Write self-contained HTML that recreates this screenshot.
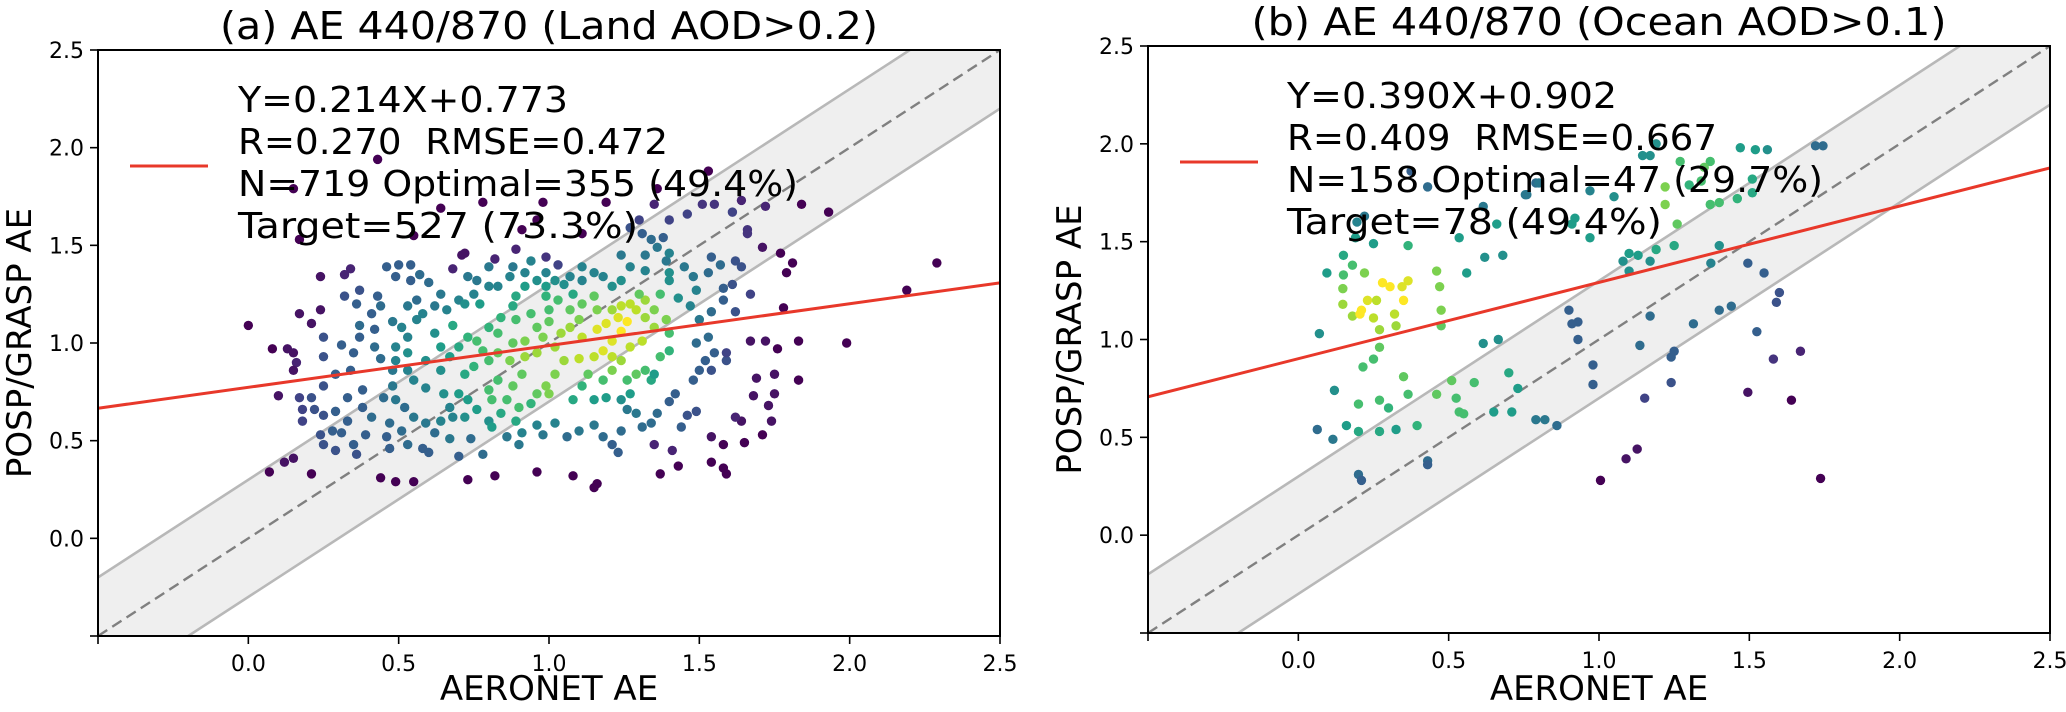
<!DOCTYPE html>
<html><head><meta charset="utf-8"><style>
html,body{margin:0;padding:0;background:#fff;}
svg{display:block;font-family:"DejaVu Sans","Liberation Sans",sans-serif;}
</style></head><body>
<svg id="chart" width="2066" height="712" viewBox="0 0 2066 712" xmlns="http://www.w3.org/2000/svg"></svg>
<script>
const xTicks = [0.0, 0.5, 1.0, 1.5, 2.0, 2.5];
const yTicks = [0.0, 0.5, 1.0, 1.5, 2.0, 2.5];
const tickLabels = ["0.0","0.5","1.0","1.5","2.0","2.5"];
const landFit = [0.214, 0.773];
const oceanFit = [0.390, 0.902];
const bandOffset = 0.3;
const landStats = ["Y=0.214X+0.773","R=0.270\u00a0\u00a0RMSE=0.472","N=719 Optimal=355 (49.4%)","Target=527 (73.3%)"];
const oceanStats = ["Y=0.390X+0.902","R=0.409\u00a0\u00a0RMSE=0.667","N=158 Optimal=47 (29.7%)","Target=78 (49.4%)"];
const titles = ["(a) AE 440/870 (Land AOD>0.2)", "(b) AE 440/870 (Ocean AOD>0.1)"];
// [AERONET AE, POSP/GRASP AE, density 0..1]
const landPoints = [
[0.43,1.94,0],[0.15,1.79,0],[0.17,1.53,0],[0.64,1.69,0],[0.55,1.55,0],[0.78,1.72,0],[0.98,1.72,0],[1.19,1.72,0],[0.96,1.63,0],[0.91,1.58,0],[1.11,1.56,0],[1.36,1.79,0],[1.53,1.88,0],[1.84,1.71,0],[1.93,1.67,0],[2.29,1.41,0],[2.19,1.27,0],[1.99,1.0,0],[1.83,1.01,0],[1.83,0.81,0],[1.76,0.97,0],[1.72,1.01,.05],[1.67,1.01,.05],[1.79,1.36,0],[1.81,1.41,0],[1.77,1.46,0],[1.71,1.49,.05],[1.78,1.18,0],[1.75,0.84,.05],[1.69,0.82,.05],[1.68,0.73,.05],[1.75,0.74,.05],[1.73,0.68,.05],[1.74,0.6,.05],[1.71,0.53,0],[1.65,0.49,0],[1.64,0.6,.05],[1.62,0.62,.1],[1.59,0.33,0],[1.58,0.36,0],[1.54,0.39,0],[1.58,0.48,0],[1.54,0.52,.05],[1.43,0.37,0],[1.37,0.33,0],[1.41,0.45,.1],[1.35,0.48,.1],[1.16,0.28,0],[1.15,0.26,0],[1.08,0.32,0],[0.96,0.34,0],[0.82,0.32,0],[0.73,0.3,0],[0.55,0.29,0],[0.49,0.29,0],[0.44,0.31,0],[0.21,0.33,0],[0.07,0.34,0],[0.12,0.39,.05],[0.15,0.41,.05],[0.1,0.73,.05],[0.08,0.97,0],[0.13,0.97,.05],[0.15,0.95,.05],[0.16,0.9,.1],[0.15,0.86,.05],[0.0,1.09,0],[0.17,1.15,.05],[0.21,1.1,.05],[0.24,1.17,.05],[0.24,1.34,.05],[0.32,1.35,.1],[0.34,1.38,.1],[0.72,1.46,.05],[0.71,1.45,.05],[0.68,1.38,.1],[0.82,1.43,.1],[0.89,1.48,.1],[0.99,1.44,.15],[1.03,1.4,.2],[1.66,1.58,.15],[1.66,1.56,.15],[1.64,1.73,.1],[1.61,1.67,.2],[1.72,1.7,.1],[1.51,1.71,.15],[1.55,1.71,.15],[1.46,1.66,.2],[1.4,1.63,.2],[1.35,1.71,.1],[1.3,1.63,.2],[1.27,1.59,.25],
[0.37,1.27,.25],[0.43,1.24,.3],[0.36,1.2,.3],[0.41,1.15,.3],[0.46,1.39,.3],[0.5,1.4,.3],[0.49,1.34,.3],[0.54,1.4,.3],[0.57,1.35,.35],[0.6,1.31,.35],[0.54,1.32,.3],[0.44,1.19,.35],[0.37,1.09,.35],[0.42,1.07,.3],[0.32,1.24,.25],[0.37,1.03,.3],[0.25,1.03,.25],[0.31,0.99,.3],[0.35,0.95,.3],[0.42,0.98,.35],[0.44,0.92,.35],[0.25,0.93,.25],[0.29,0.84,.3],[0.34,0.86,.3],[0.38,0.76,.3],[0.33,0.72,.3],[0.25,0.78,.25],[0.21,0.72,.25],[0.17,0.72,.2],[0.18,0.66,.2],[0.22,0.66,.25],[0.25,0.63,.25],[0.18,0.6,.2],[0.29,0.65,.3],[0.33,0.6,.3],[0.38,0.67,.3],[0.41,0.62,.35],[0.47,0.59,.35],[0.52,0.67,.35],[0.55,0.62,.4],[0.59,0.59,.4],[0.24,0.53,.25],[0.28,0.55,.3],[0.31,0.54,.3],[0.25,0.48,.25],[0.29,0.45,.25],[0.35,0.48,.3],[0.36,0.43,.25],[0.39,0.53,.3],[0.46,0.52,.3],[0.47,0.46,.3],[0.51,0.55,.35],[0.53,0.48,.35],[0.58,0.46,.3],[0.6,0.44,.3],[0.62,0.54,.35],[0.67,0.51,.4],[0.7,0.42,.3],[0.74,0.51,.35],[0.78,0.43,.35],[0.86,0.52,.4],[0.91,0.54,.45],[0.9,0.48,.4],[0.96,0.58,.45],[0.98,0.53,.4],[1.02,0.59,.45],[1.06,0.52,.35],[1.1,0.55,.4],[1.15,0.58,.4],[1.18,0.52,.35],[1.21,0.48,.3],[1.23,0.44,.3],[1.24,0.55,.35],[1.26,0.66,.4],[1.29,0.64,.4],[1.31,0.57,.35],[1.34,0.59,.35],[1.36,0.64,.35],[1.4,0.7,.3],[1.42,0.74,.3],[1.44,0.57,.3],[1.46,0.63,.25],[1.49,0.65,.25],[1.48,0.81,.3],[1.5,0.86,.3],[1.54,0.86,.25],[1.52,0.91,.3],[1.55,0.95,.3],[1.59,0.91,.25],[1.59,0.95,.2],[1.49,1.0,.35],[1.53,1.03,.35],[1.5,1.12,.4],[1.54,1.16,.35],[1.62,1.16,.25],[1.58,1.22,.3],[1.67,1.25,.2],[1.58,1.28,.3],[1.61,1.3,.25],[1.53,1.36,.35],[1.57,1.4,.35],[1.48,1.34,.4],[1.45,1.39,.4],[1.54,1.44,.3],[1.62,1.42,.25],[1.64,1.39,.25],[1.39,1.42,.4],[1.4,1.46,.45],[1.36,1.49,.4],[1.32,1.45,.4],[1.38,1.54,.3],[1.34,1.53,.35],[1.31,1.56,.3],[1.24,1.45,.4],[1.27,1.39,.45],[1.32,1.37,.45],[1.4,1.32,.5],[1.4,1.36,.5],[1.49,1.27,.45],[1.43,1.23,.5],[1.47,1.19,.45],[1.24,1.32,.5],[1.21,1.29,.5],[1.18,1.34,.45],[1.15,1.36,.45],[1.11,1.32,.45],[1.07,1.34,.45],[1.05,1.3,.5],[1.02,1.32,.5],[0.99,1.36,.45],[0.96,1.32,.5],[0.92,1.36,.45],[0.87,1.34,.45],[0.83,1.29,.45],[0.8,1.29,.45],[0.76,1.32,.4],[0.73,1.34,.4],[0.75,1.25,.45],[0.7,1.22,.45],[0.64,1.25,.4],[0.62,1.19,.4],[0.66,1.17,.45],[0.72,1.2,.5],[0.77,1.2,.55],[0.56,1.22,.35],[0.53,1.19,.4],[0.58,1.15,.45],[0.56,1.12,.45],[0.48,1.11,.4],[0.51,1.08,.45],[0.53,1.03,.45],[0.49,0.98,.45],[0.53,0.95,.5],[0.49,0.91,.45],[0.48,0.86,.4],[0.53,0.86,.45],[0.59,0.91,.5],[0.55,0.81,.45],[0.59,0.77,.45],[0.48,0.78,.4],[0.45,0.72,.35],[0.49,0.71,.4],[0.64,0.86,.5],[0.65,0.74,.5],[0.67,0.67,.45],[0.7,0.74,.55],[0.73,0.71,.55],[0.72,0.62,.5],[0.76,0.66,.55],[0.8,0.6,.5],[0.81,0.57,.55],[0.68,0.62,.45],[0.64,0.6,.45],
[0.68,1.09,.6],[0.73,1.03,.65],[0.7,0.98,.6],[0.76,1.01,.7],[0.78,0.96,.7],[0.8,1.08,.65],[0.83,1.05,.7],[0.84,1.13,.65],[0.89,1.12,.7],[0.88,1.19,.6],[0.94,1.15,.7],[0.96,1.08,.75],[1.0,1.17,.7],[1.0,1.11,.75],[0.98,1.03,.8],[0.92,1.01,.8],[0.88,1.0,.75],[0.83,0.95,.75],[0.87,0.91,.8],[0.92,0.93,.85],[0.96,0.95,.85],[1.02,0.98,.85],[1.04,1.05,.85],[1.07,1.08,.85],[1.1,1.12,.8],[1.11,1.03,.9],[1.16,1.07,.95],[1.19,1.1,.95],[1.23,1.13,.95],[1.26,1.11,1],[1.24,1.06,1],[1.21,1.01,.95],[1.18,0.96,.95],[1.15,0.93,.9],[1.1,0.92,.9],[1.05,0.91,.85],[1.21,0.93,.9],[1.24,0.91,.85],[1.27,0.98,.9],[1.31,1.01,.9],[1.29,1.17,.9],[1.32,1.13,.85],[1.35,1.17,.8],[1.35,1.08,.85],[1.39,1.12,.8],[1.4,1.05,.7],[1.32,1.22,.85],[1.27,1.2,.9],[1.24,1.19,.9],[1.21,1.17,.85],[1.16,1.17,.8],[1.11,1.2,.75],[1.07,1.17,.75],[1.03,1.22,.7],[0.99,1.24,.65],[1.15,1.24,.75],[1.3,1.25,.75],[1.37,1.25,.7],[1.4,0.96,.65],[1.37,0.93,.7],[1.32,0.86,.7],[1.29,0.84,.75],[1.26,0.81,.7],[1.21,0.86,.8],[1.18,0.81,.7],[1.13,0.84,.75],[1.11,0.78,.65],[1.08,0.71,.6],[1.15,0.71,.55],[1.19,0.72,.55],[1.24,0.71,.5],[1.27,0.74,.55],[1.34,0.81,.6],[1.35,0.84,.55],[1.02,0.84,.8],[0.99,0.78,.8],[0.96,0.74,.75],[1.0,0.74,.8],[0.91,0.84,.75],[0.88,0.78,.75],[0.83,0.81,.7],[0.8,0.76,.7],[0.81,0.71,.7],[0.86,0.71,.7],[0.9,0.67,.7],[0.94,0.69,.65],[0.84,0.64,.6],[0.89,0.6,.6],[0.8,0.91,.7],[0.75,0.88,.65],[0.72,0.84,.6],[0.67,0.93,.55],[0.64,0.98,.55],[0.62,1.05,.5],[0.89,1.24,.6],[0.92,1.29,.55],[0.99,1.29,.55],[1.08,1.25,.6],[1.11,1.39,.45],[0.94,1.42,.45],[0.88,1.39,.4],[0.8,1.39,.4]
];
const oceanPoints = [
[0.063,0.54,.35],[0.07,1.03,.5],[0.095,1.34,.55],[0.115,0.49,.4],[0.12,0.74,.5],[0.15,1.43,.6],[0.15,1.33,.7],[0.148,1.26,.8],[0.148,1.18,.85],[0.18,1.38,.7],[0.16,0.56,.55],[0.18,1.12,.85],[0.2,0.53,.6],[0.2,0.67,.7],[0.21,1.15,1],[0.205,1.13,1],[0.22,1.34,.8],[0.215,0.86,.7],[0.23,1.2,.95],[0.25,1.11,.9],[0.25,1.49,.55],[0.26,1.2,.9],[0.27,1.05,.85],[0.27,0.96,.75],[0.27,0.69,.7],[0.27,0.53,.6],[0.28,1.29,1],[0.25,0.9,.7],[0.3,0.65,.65],[0.305,1.27,1],[0.32,1.13,.9],[0.325,1.07,.85],[0.325,0.54,.55],[0.345,1.27,.95],[0.35,1.2,1],[0.365,1.3,.95],[0.35,0.81,.75],[0.365,0.72,.7],[0.365,1.48,.65],[0.395,0.56,.65],[0.46,1.35,.8],[0.47,1.27,.8],[0.475,1.15,.8],[0.475,1.07,.75],[0.46,0.72,.75],[0.51,0.79,.75],[0.525,0.7,.7],[0.535,0.63,.7],[0.55,0.62,.7],[0.535,1.52,.55],[0.56,1.34,.55],[0.585,0.78,.7],[0.62,1.42,.5],[0.615,1.68,.4],[0.615,0.98,.5],[0.65,0.63,.55],[0.665,1.0,.5],[0.66,1.59,.55],[0.68,1.43,.5],[0.7,0.83,.6],[0.71,0.63,.55],[0.73,0.75,.55],[0.755,1.74,.4],[0.79,1.8,.35],[0.79,0.59,.4],[0.82,0.59,.4],[0.86,0.56,.35],[0.9,1.15,.3],[0.93,1.09,.3],[0.98,0.87,.3],[0.98,0.77,.3],[0.2,0.31,.35],[0.21,0.28,.3],[0.43,0.38,.35],[0.43,0.36,.3],[0.43,1.78,.35],[0.375,1.86,.3],[0.22,1.63,.4],[0.195,1.6,.45],[0.19,1.52,.55],
[1.495,1.39,.3],[1.549,1.34,.3],[1.6,1.24,.25],[1.59,1.19,.25],[1.525,1.04,.3],[1.67,0.94,.1],[1.58,0.9,.15],[1.495,0.73,.05],[1.64,0.69,0],[1.737,0.29,0],[1.152,0.7,.2],[1.127,0.44,.05],[1.09,0.39,.05],[1.005,0.28,0],[1.24,0.78,.25],[1.24,0.91,.3],[1.25,0.94,.3],[1.136,0.97,.35],[1.17,1.12,.35],[1.314,1.08,.35],[1.4,1.15,.35],[1.44,1.17,.35],[1.372,1.39,.45],[1.4,1.48,.5],[1.25,1.48,.6],[1.19,1.46,.6],[1.17,1.4,.5],[1.13,1.43,.55],[1.1,1.35,.5],[1.1,1.44,.55],[1.08,1.4,.5],[1.26,1.59,.75],[1.22,1.69,.8],[1.22,1.78,.8],[1.27,1.91,.7],[1.37,1.91,.7],[1.37,1.69,.7],[1.4,1.7,.7],[1.46,1.72,.65],[1.51,1.75,.6],[1.51,1.82,.6],[1.47,1.98,.55],[1.52,1.97,.55],[1.56,1.97,.5],[1.145,1.94,.5],[1.17,1.94,.5],[1.19,2.0,.5],[1.35,1.88,.75],[1.34,1.81,.7],[1.3,1.79,.65],[0.97,1.76,.45],[1.05,1.73,.5],[0.97,1.52,.55],[0.92,1.62,.55],[0.91,1.59,.55],[0.76,1.74,.4],[0.8,1.8,.4],[0.91,1.08,.3],[0.93,1.0,.3],[1.72,1.99,.35],[1.745,1.99,.35]
];

const NS = "http://www.w3.org/2000/svg";
const svg = document.getElementById("chart");
function mk(tag, attrs, parent) {
  const e = document.createElementNS(NS, tag);
  for (const k in attrs) e.setAttribute(k, attrs[k]);
  (parent || svg).appendChild(e);
  return e;
}
const viridis = [[68,1,84],[72,40,120],[62,74,137],[49,104,142],[38,130,142],[31,158,137],[53,183,121],[110,206,88],[181,222,43],[253,231,37]];
function vcol(t) {
  t = Math.max(0, Math.min(1, t)) * (viridis.length - 1);
  const i = Math.min(viridis.length - 2, Math.floor(t)), f = t - i;
  const a = viridis[i], b = viridis[i + 1];
  return "rgb(" + a.map((v, k) => Math.round(v + (b[k] - v) * f)).join(",") + ")";
}

function panel(id, box, points, fit, stats, title, statX, legY) {
  const sx = v => box.x0 + (v + 0.5) / 3 * (box.x1 - box.x0);
  const sy = v => box.y1 - (v + 0.5) / 3 * (box.y1 - box.y0);
  const g = mk("g", {});
  
  
  const clipId = id + "-clip";
  const cp = mk("clipPath", {id: clipId}, g);
  mk("rect", {x: box.x0, y: box.y0, width: box.x1 - box.x0, height: box.y1 - box.y0}, cp);
  const plot = mk("g", {"clip-path": "url(#" + clipId + ")"}, g);
  const lo = -0.5, hi = 2.5;
  const band = mk("polygon", {points: [[lo, lo + bandOffset], [hi, hi + bandOffset], [hi, hi - bandOffset], [lo, lo - bandOffset]].map(p => sx(p[0]) + "," + sy(p[1])).join(" "), fill: "#efefef"}, plot);
  
  
  [bandOffset, -bandOffset].forEach(o => {
    const l = mk("line", {x1: sx(lo), y1: sy(lo + o), x2: sx(hi), y2: sy(hi + o), stroke: "#b8b8b8", "stroke-width": 2.6}, plot);
    
    
  });
  const one = mk("line", {x1: sx(lo), y1: sy(lo), x2: sx(hi), y2: sy(hi), stroke: "#808080", "stroke-width": 2.4, "stroke-dasharray": "11,6"}, plot);
  
  
  points.forEach(p => {
    const c = mk("circle", {cx: sx(p[0]), cy: sy(p[1]), r: 4.7, fill: vcol(p[2])}, plot);
    
    
  });
  const fl = mk("line", {x1: sx(lo), y1: sy(fit[0] * lo + fit[1]), x2: sx(hi), y2: sy(fit[0] * hi + fit[1]), stroke: "#e8382a", "stroke-width": 3}, plot);
  
  
  const frame = mk("rect", {x: box.x0, y: box.y0, width: box.x1 - box.x0, height: box.y1 - box.y0, fill: "none", stroke: "#000", "stroke-width": 2}, g);
  
  
  xTicks.forEach((v, i) => {
    mk("line", {x1: sx(v), y1: box.y1, x2: sx(v), y2: box.y1 + 8, stroke: "#000", "stroke-width": 1.6}, g);
    const t = mk("text", {x: sx(v), y: box.y1 + 35, "font-size": 22, "text-anchor": "middle", fill: "#000"}, g);
    t.textContent = tickLabels[i];
    
    
  });
  mk("line", {x1: box.x0, y1: box.y1, x2: box.x0, y2: box.y1 + 8, stroke: "#000", "stroke-width": 1.6}, g);
  yTicks.forEach((v, i) => {
    mk("line", {x1: box.x0 - 8, y1: sy(v), x2: box.x0, y2: sy(v), stroke: "#000", "stroke-width": 1.6}, g);
    const t = mk("text", {x: box.x0 - 14, y: sy(v) + 8, "font-size": 22, "text-anchor": "end", fill: "#000"}, g);
    t.textContent = tickLabels[i];
    
    
  });
  mk("line", {x1: box.x0 - 8, y1: box.y1, x2: box.x0, y2: box.y1, stroke: "#000", "stroke-width": 1.6}, g);
  const tt = mk("text", {x: (box.x0 + box.x1) / 2, y: box.y0 - 11, "font-size": 38, "text-anchor": "middle", fill: "#000", textLength: title.w, lengthAdjust: "spacingAndGlyphs"}, g);
  tt.textContent = title.s;
  
  
  const xl = mk("text", {x: (box.x0 + box.x1) / 2, y: 700, "font-size": 34, "text-anchor": "middle", fill: "#000"}, g);
  xl.textContent = "AERONET AE";
  
  
  const yc = (box.y0 + box.y1) / 2;
  const yl = mk("text", {x: 0, y: 0, "font-size": 34, "text-anchor": "middle", fill: "#000", transform: "translate(" + (box.x0 - 67) + "," + yc + ") rotate(-90)"}, g);
  yl.textContent = "POSP/GRASP AE";
  
  
  const leg = mk("line", {x1: box.x0 + 32, y1: legY, x2: box.x0 + 110, y2: legY, stroke: "#e8382a", "stroke-width": 3}, g);
  
  
  stats.forEach((s, i) => {
    const t = mk("text", {x: statX.x, y: box.y0 + 62 + i * 42, "font-size": 36, fill: "#000", textLength: statX.w[i], lengthAdjust: "spacingAndGlyphs"}, g);
    t.textContent = s;
    
    
  });
}
panel("land", {x0: 98, x1: 1000, y0: 50, y1: 636}, landPoints, landFit, landStats, {s: titles[0], w: 658}, {x: 238, w: [330, 430, 560, 400]}, 166);
panel("ocean", {x0: 1148, x1: 2050, y0: 46, y1: 633}, oceanPoints, oceanFit, oceanStats, {s: titles[1], w: 695}, {x: 1287, w: [330, 430, 536, 375]}, 162);
</script>
</body></html>
